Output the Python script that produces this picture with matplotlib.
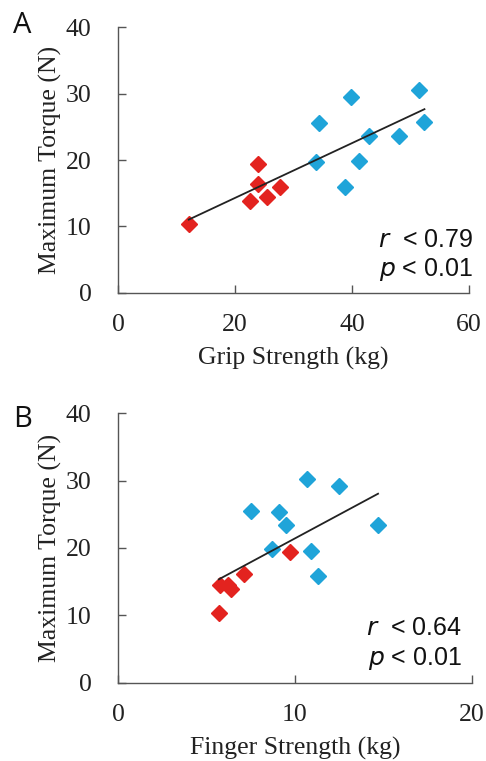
import numpy as np
import matplotlib
matplotlib.use("Agg")
import matplotlib.pyplot as plt

# Panel A: grip strength
grip_red_x = [12.1, 22.6, 24.0, 24.0, 25.4, 27.7]
grip_red_y = [10.35, 13.9, 19.4, 16.4, 14.5, 16.0]
grip_blue_x = [33.8, 34.4, 38.9, 39.8, 41.2, 43.0, 48.0, 51.5, 52.4]
grip_blue_y = [19.65, 25.5, 16.0, 29.4, 19.9, 23.6, 23.6, 30.6, 25.75]

# Panel B: finger strength
finger_red_x = [5.7, 5.75, 6.2, 6.4, 7.1, 9.7]
finger_red_y = [10.4, 14.55, 14.55, 13.9, 16.1, 19.4]
finger_blue_x = [7.5, 8.7, 9.1, 9.5, 10.7, 10.9, 11.3, 12.5, 14.7]
finger_blue_y = [25.5, 19.8, 25.3, 23.4, 30.3, 19.6, 15.8, 29.2, 23.4]

y_ticks = [0, 10, 20, 30, 40]
grip_ticks = [0, 20, 40, 60]
finger_ticks = [0, 10, 20]

RED = "#e3231f"
BLUE = "#1fa4d9"

fig = plt.figure(figsize=(4.86, 7.61), dpi=100)

def panel(rect, rx, ry, bx, by, xticks, xlabel, rtext, tx, ry_frac, py_frac):
    ax = fig.add_axes(rect)
    ax.plot(rx, ry, linestyle="none", marker="D", color=RED, markersize=8.5, zorder=2)
    ax.plot(bx, by, linestyle="none", marker="D", color=BLUE, markersize=8.5, zorder=2)
    allx = np.array(list(rx) + list(bx))
    ally = np.array(list(ry) + list(by))
    k, b = np.polyfit(allx, ally, 1)
    xs = np.array([allx.min(), allx.max()])
    ax.plot(xs, k * xs + b, color="#222222", linewidth=1.3, zorder=3)
    ax.set_xlim(xticks[0], xticks[-1])
    ax.set_ylim(0, 40)
    ax.set_xticks(xticks)
    ax.set_yticks(y_ticks)
    for s in ["top", "right"]:
        ax.spines[s].set_visible(False)
    for s in ["left", "bottom"]:
        ax.spines[s].set_color("#555555")
        ax.spines[s].set_linewidth(1.0)
    ax.tick_params(direction="in", length=6, color="#555555", width=1.0)
    ax.tick_params(axis="x", pad=15)
    ax.tick_params(axis="y", pad=19)
    for lab in ax.get_xticklabels() + ax.get_yticklabels():
        lab.set_fontfamily("Liberation Serif")
        lab.set_fontsize(18.5)
        lab.set_color("#222222")
    ax.set_xlabel(xlabel, family="Liberation Serif", fontsize=18.5, color="#222222", labelpad=8)
    ax.set_ylabel("Maximum Torque (N)", family="Liberation Serif", fontsize=18.5, color="#222222", labelpad=3)
    ax.text(tx, ry_frac, r"$\mathit{r}$  < " + rtext, transform=ax.transAxes, ha="right", va="baseline",
            family="Liberation Sans", fontsize=18, color="#111111")
    ax.text(tx, py_frac, r"$\mathit{p}$ < 0.01", transform=ax.transAxes, ha="right", va="baseline",
            family="Liberation Sans", fontsize=18, color="#111111")
    return ax

panel([0.2428, 0.615, 0.722, 0.3495], grip_red_x, grip_red_y, grip_blue_x, grip_blue_y,
      grip_ticks, "Grip Strength (kg)", "0.79", 1.011, 0.173, 0.064)
panel([0.2428, 0.1029, 0.728, 0.354], finger_red_x, finger_red_y, finger_blue_x, finger_blue_y,
      finger_ticks, "Finger Strength (kg)", "0.64", 0.972, 0.177, 0.066)

fig.text(0.027, 0.9566, "A", family="Open Sans", fontsize=21, color="#111111", va="baseline")
fig.text(0.027, 0.439, "B", family="Open Sans", fontsize=21, color="#111111", va="baseline")

fig.savefig("out.png", dpi=100)
